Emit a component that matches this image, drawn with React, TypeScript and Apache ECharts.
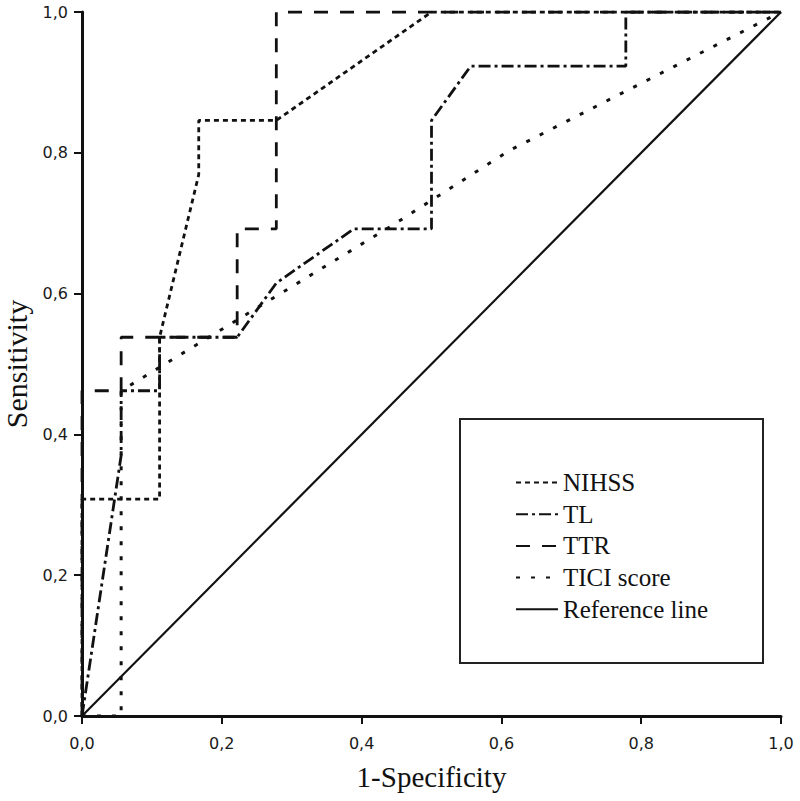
import React, { useEffect, useRef } from "react";
import * as echarts from "echarts";

// 1-Specificity (x) and Sensitivity (y) for each ROC curve
const nihssX = [0, 0, 0.111, 0.111, 0.167, 0.167, 0.278, 0.5, 1];
const nihssY = [0, 0.308, 0.308, 0.538, 0.769, 0.846, 0.846, 1, 1];

const tlX = [0, 0.056, 0.056, 0.111, 0.111, 0.222, 0.278, 0.389, 0.5, 0.5, 0.556, 0.778, 0.778, 1];
const tlY = [0, 0.37, 0.462, 0.462, 0.538, 0.538, 0.615, 0.692, 0.692, 0.846, 0.923, 0.923, 1, 1];

const ttrX = [0, 0, 0.056, 0.056, 0.222, 0.222, 0.278, 0.278, 1];
const ttrY = [0, 0.462, 0.462, 0.538, 0.538, 0.692, 0.692, 1, 1];

const ticiX = [0, 0.056, 0.056, 0.444, 0.611, 1];
const ticiY = [0, 0, 0.462, 0.697, 0.803, 1];

const refX = [0, 1];
const refY = [0, 1];

const seriesNames = ["NIHSS", "TL", "TTR", "TICI score", "Reference line"];
const axisTicks = [0, 0.2, 0.4, 0.6, 0.8, 1.0];
const xAxisTitle = "1-Specificity";
const yAxisTitle = "Sensitivity";

const zip = (xs: number[], ys: number[]) => xs.map((x, i) => [x, ys[i]]);

const INK = "#111";
const SERIF = "Liberation Serif";

export default function App() {
  const ref = useRef<HTMLDivElement>(null);

  useEffect(() => {
    if (!ref.current) return;
    const chart = echarts.init(ref.current, undefined, { renderer: "svg" });

    const tickFmt = (v: number) => v.toFixed(1).replace(".", ",");
    const axisCommon = {
      type: "value" as const,
      min: axisTicks[0],
      max: axisTicks[axisTicks.length - 1],
      interval: 0.2,
      splitLine: { show: false },
      axisLine: { show: true, lineStyle: { color: INK, width: 3 } },
      axisTick: { show: true, inside: false, length: 8, lineStyle: { color: INK, width: 2 } },
      axisLabel: {
        formatter: tickFmt,
        fontFamily: "DejaVu Sans",
        fontSize: 16,
        color: "#1a1a1a",
      },
      nameLocation: "middle" as const,
    };

    const mk = (name: string, data: number[][], type: any, width: number, z: number) => ({
      name,
      type: "line",
      data,
      symbol: "none",
      showSymbol: false,
      z,
      lineStyle: { color: INK, width, type, cap: "butt" },
      itemStyle: { color: INK },
      emphasis: { disabled: true },
    });

    chart.setOption({
      animation: false,
      backgroundColor: "#fff",
      textStyle: { fontFamily: SERIF },
      grid: {
        left: 82,
        right: 19,
        top: 12,
        bottom: 85,
        containLabel: false,
        outerBoundsMode: "none",
      },
      xAxis: {
        ...axisCommon,
        name: xAxisTitle,
        nameGap: 46,
        nameTextStyle: { fontFamily: SERIF, color: INK, fontSize: 29 },
        axisLabel: { ...axisCommon.axisLabel, margin: 19 },
      },
      yAxis: {
        ...axisCommon,
        name: yAxisTitle,
        nameGap: 49,
        nameTextStyle: { fontFamily: SERIF, color: INK, fontSize: 30 },
        axisLabel: { ...axisCommon.axisLabel, margin: 14 },
      },
      legend: {
        orient: "vertical",
        left: 515,
        top: 470,
        padding: 0,
        itemWidth: 42,
        itemHeight: 14,
        itemGap: 6.7,
        selectedMode: false,
        data: seriesNames,
        itemStyle: { opacity: 0 },
        textStyle: { fontFamily: SERIF, fontSize: 25, lineHeight: 25, color: INK },
      },
      graphic: [
        {
          type: "rect",
          shape: { x: 460, y: 419, width: 303, height: 244 },
          style: { fill: "none", stroke: "#222", lineWidth: 2 },
          z: 1,
        },
      ],
      series: [
        mk(seriesNames[4], zip(refX, refY), "solid", 2.2, 2),
        mk(seriesNames[3], zip(ticiX, ticiY), [4, 11], 3, 3),
        mk(seriesNames[2], zip(ttrX, ttrY), [14, 12], 2.8, 4),
        mk(seriesNames[1], zip(tlX, tlY), [12, 4, 3, 4], 2.8, 5),
        mk(seriesNames[0], zip(nihssX, nihssY), [5, 4], 2.8, 6),
      ],
    });

    return () => chart.dispose();
  }, []);

  return (
    <div
      ref={ref}
      style={{ position: "fixed", left: 0, top: 0, width: 800, height: 801, background: "#fff" }}
    />
  );
}
